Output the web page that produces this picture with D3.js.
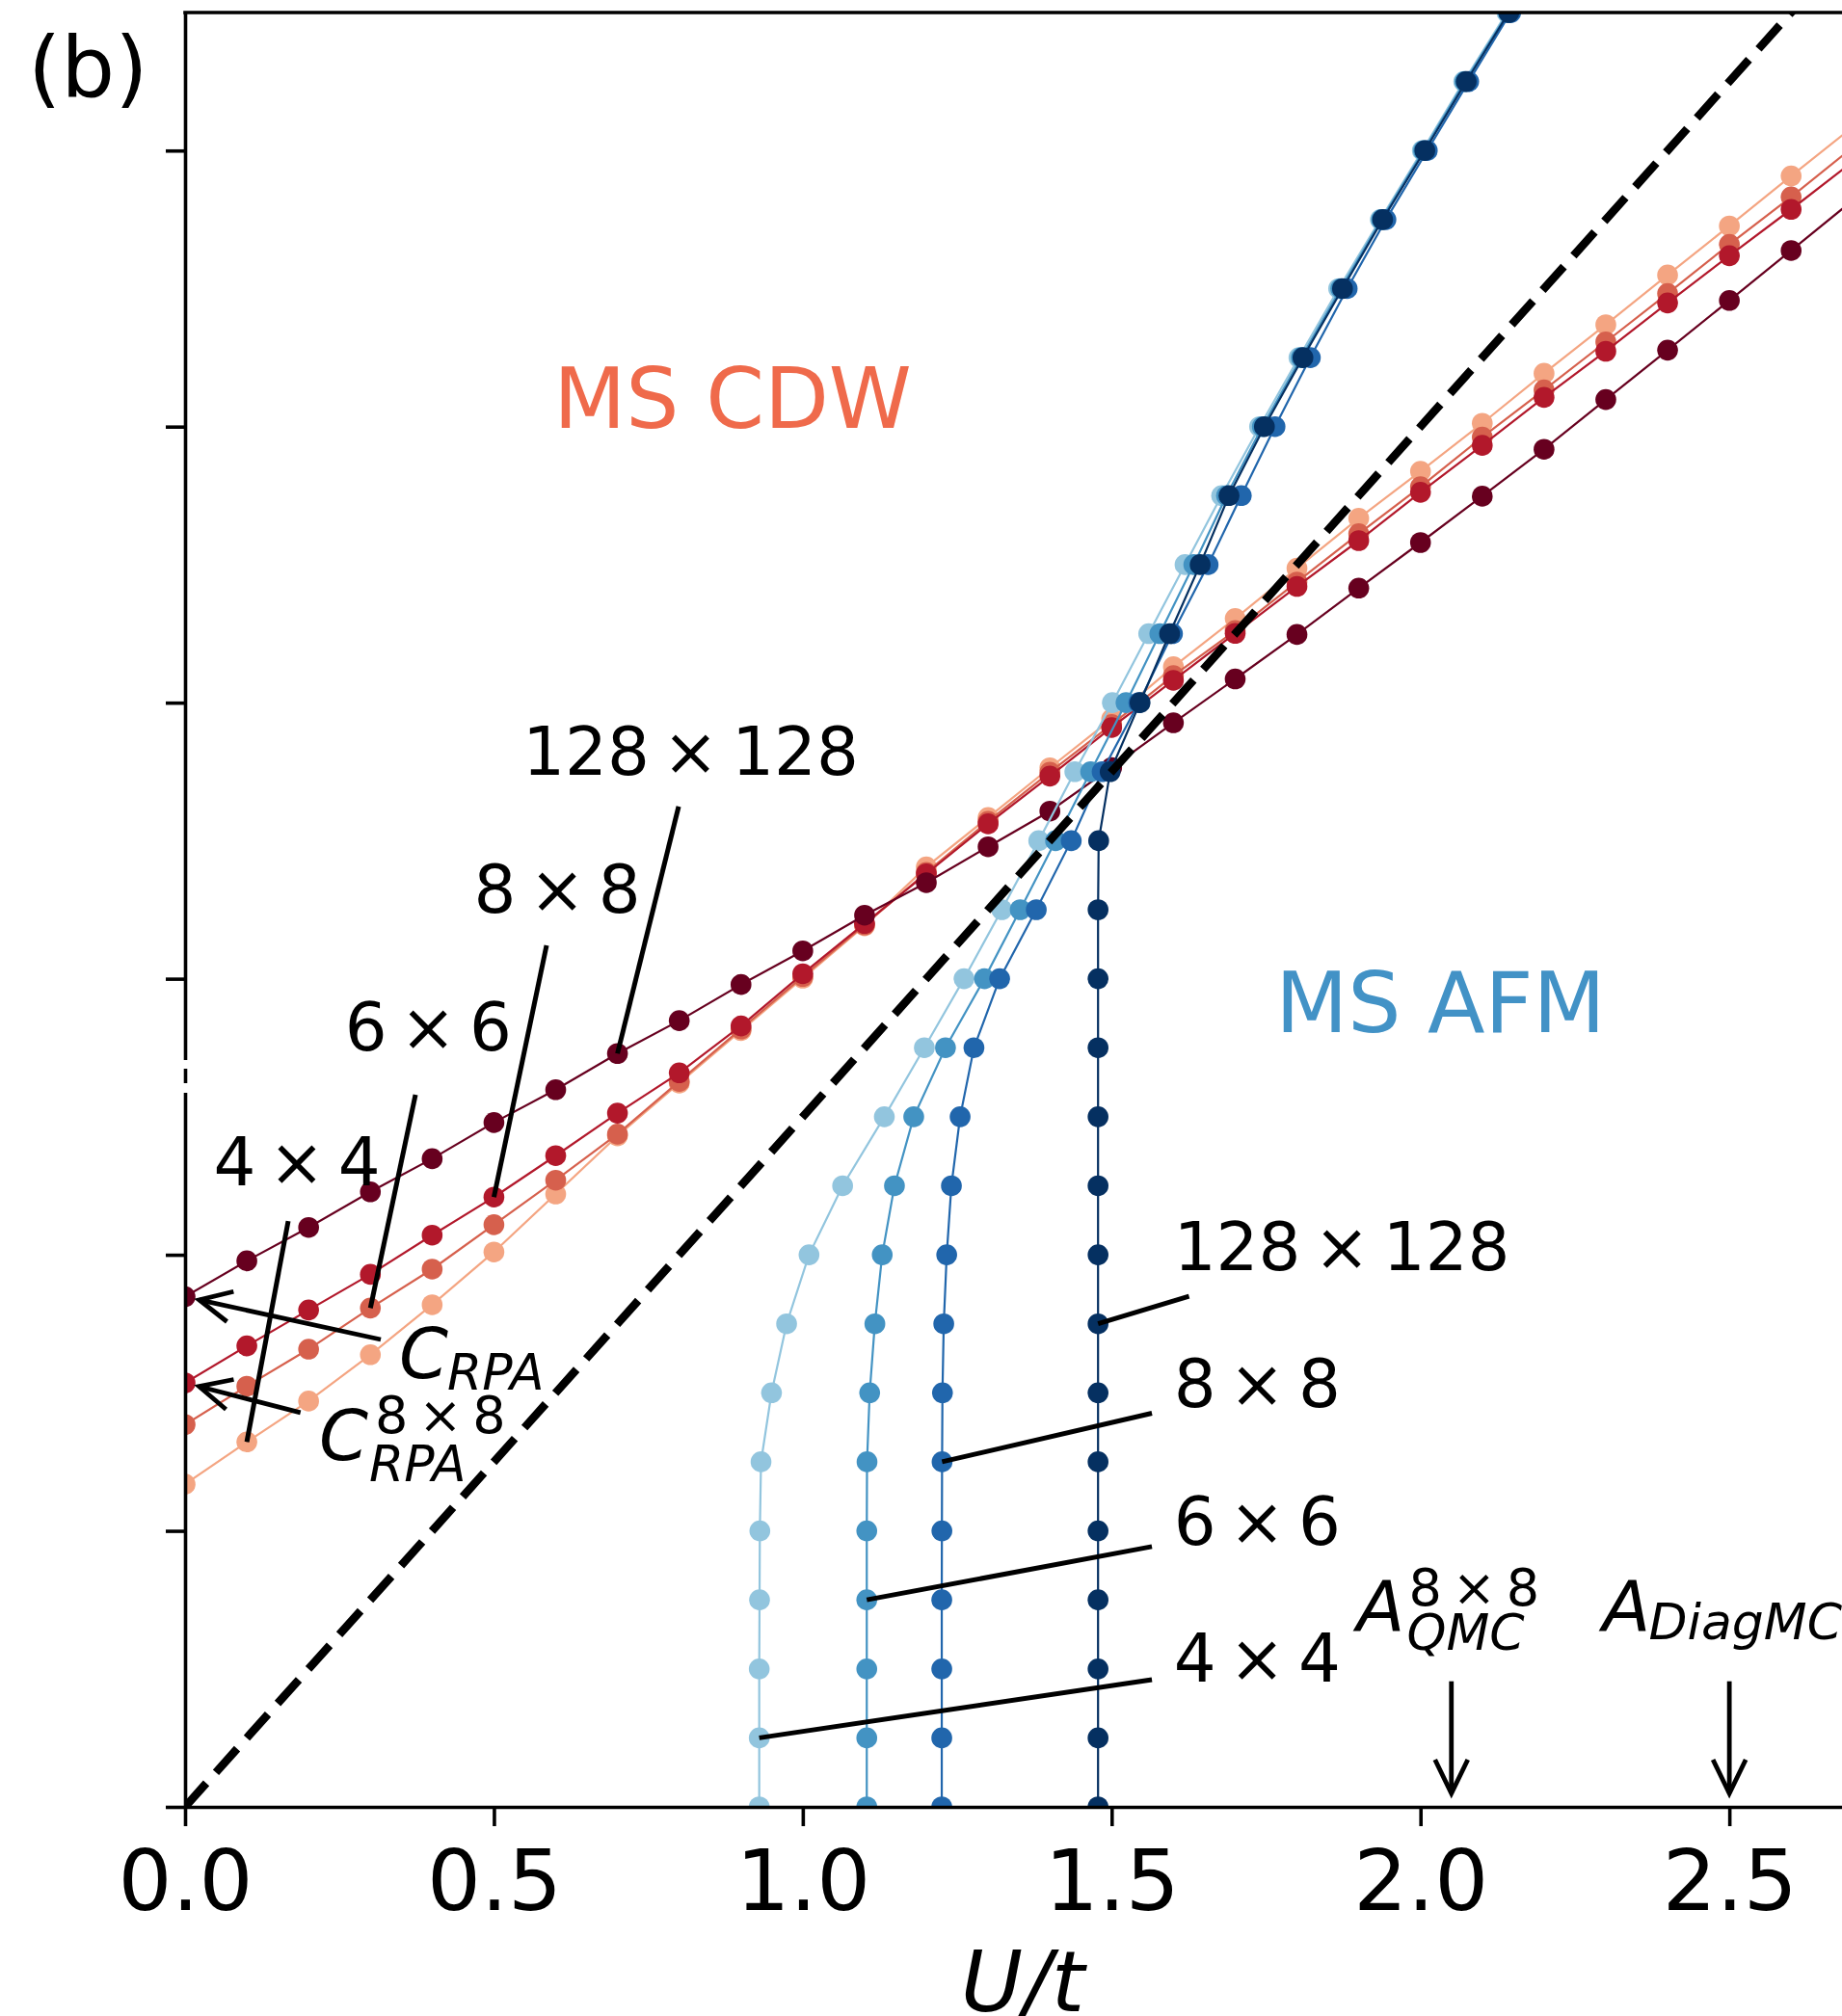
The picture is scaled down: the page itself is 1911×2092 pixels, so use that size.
<!DOCTYPE html>
<html>
<head>
<meta charset="utf-8">
<script src="https://cdn.jsdelivr.net/npm/d3@7"></script>
<style>
  html, body { margin: 0; padding: 0; background: #fff; overflow: hidden; }
  svg { display: block; }
  text { font-family: "DejaVu Sans", sans-serif; }
</style>
</head>
<body>
<svg id="chart" width="1911" height="2092"></svg>
<script>
// ---------- data ----------
// CDW boundary V_c(U): sampled on a U/t grid
const uGrid = [0, 0.1, 0.2, 0.3, 0.4, 0.5, 0.6, 0.7, 0.8, 0.9, 1.0, 1.1, 1.2, 1.3,
               1.4, 1.5, 1.6, 1.7, 1.8, 1.9, 2.0, 2.1, 2.2, 2.3, 2.4, 2.5, 2.6, 2.7];
const cdw4x4 = [0.1169, 0.1322, 0.1470, 0.1638, 0.1819, 0.2010, 0.2220, 0.2431, 0.2622, 0.2812,
                0.3002, 0.3192, 0.3405, 0.3584, 0.3764, 0.3941, 0.4130, 0.4305, 0.4487, 0.4668,
                0.4838, 0.5012, 0.5193, 0.5369, 0.5549, 0.5727, 0.5908, 0.6086];
const cdw6x6 = [0.1385, 0.1524, 0.1658, 0.1807, 0.1948, 0.2109, 0.2270, 0.2437, 0.2628, 0.2818,
                0.3008, 0.3195, 0.3385, 0.3570, 0.3748, 0.3921, 0.4098, 0.4261, 0.4437, 0.4612,
                0.4782, 0.4962, 0.5133, 0.5307, 0.5482, 0.5660, 0.5832, 0.6012];
const cdw8x8 = [0.1536, 0.1670, 0.1800, 0.1929, 0.2071, 0.2209, 0.2359, 0.2513, 0.2659, 0.2829,
                0.3018, 0.3200, 0.3380, 0.3561, 0.3734, 0.3910, 0.4081, 0.4251, 0.4421, 0.4587,
                0.4762, 0.4932, 0.5106, 0.5273, 0.5448, 0.5619, 0.5787, 0.5960];
const cdw128 = [0.1848, 0.1978, 0.2099, 0.2228, 0.2348, 0.2479, 0.2598, 0.2729, 0.2848, 0.2979,
                0.3101, 0.3230, 0.3348, 0.3478, 0.3607, 0.3765, 0.3927, 0.4086, 0.4247, 0.4415,
                0.4580, 0.4748, 0.4918, 0.5098, 0.5277, 0.5457, 0.5638, 0.5820];

// AFM boundary U_c(V): sampled on a V/t grid
const vGrid = [0, 0.025, 0.05, 0.075, 0.1, 0.125, 0.15, 0.175, 0.2, 0.225, 0.25, 0.275, 0.3,
               0.325, 0.35, 0.375, 0.4, 0.425, 0.45, 0.475, 0.5, 0.525, 0.55, 0.575, 0.6, 0.625, 0.65];
const afm4x4 = [0.9295, 0.9295, 0.9295, 0.9300, 0.9305, 0.9324, 0.9494, 0.9738, 1.0101, 1.0645,
                1.1320, 1.1968, 1.2610, 1.3222, 1.3820, 1.4404, 1.5012, 1.5600, 1.6188, 1.6780,
                1.7395, 1.8032, 1.8675, 1.9350, 2.0030, 2.0700, 2.1400];
const afm6x6 = [1.1036, 1.1036, 1.1036, 1.1036, 1.1036, 1.1040, 1.1083, 1.1167, 1.1286, 1.1484,
                1.1796, 1.2310, 1.2940, 1.3520, 1.4092, 1.4660, 1.5233, 1.5780, 1.6330, 1.6860,
                1.7440, 1.8070, 1.8710, 1.9370, 2.0050, 2.0720, 2.1420];
const afm8x8 = [1.2250, 1.2250, 1.2250, 1.2250, 1.2252, 1.2255, 1.2261, 1.2282, 1.2330, 1.2406,
                1.2547, 1.2771, 1.3187, 1.3780, 1.4346, 1.4846, 1.5440, 1.5985, 1.6562, 1.7099,
                1.7645, 1.8217, 1.8813, 1.9440, 2.0110, 2.0780, 2.1460];
const afm128 = [1.4780, 1.4780, 1.4780, 1.4780, 1.4780, 1.4780, 1.4780, 1.4780, 1.4780, 1.4780,
                1.4780, 1.4780, 1.4780, 1.4780, 1.4790, 1.4976, 1.5460, 1.5938, 1.6433, 1.6900,
                1.7473, 1.8097, 1.8737, 1.9387, 2.0070, 2.0740, 2.1430];

const sizeNames = ["4\u2009×\u20094", "6\u2009×\u20096", "8\u2009×\u20098", "128\u2009×\u2009128"];
const xTicks = [0, 0.5, 1.0, 1.5, 2.0, 2.5];
const yTicks = [0, 0.1, 0.2, 0.3, 0.4, 0.5, 0.6];
const strongCouplingSlope = 0.25;   // V = U/4
const qmcU = 2.05, diagmcU = 2.5;

// ---------- styling ----------
const cdwColors = ["#f4a582", "#d6604d", "#b2182b", "#67001f"];
const afmColors = ["#92c5de", "#4393c3", "#2166ac", "#053061"];
const cdwSeries = [cdw4x4, cdw6x6, cdw8x8, cdw128];
const afmSeries = [afm4x4, afm6x6, afm8x8, afm128];

const svg = d3.select("#chart");
const plot = { left: 192, right: 1930, top: 13, bottom: 1875 };

const x = d3.scaleLinear().domain([0, 2.712]).range([plot.left, plot.right]);
const y = d3.scaleLinear().domain([0, 0.65]).range([plot.bottom, plot.top]);

svg.append("defs").append("clipPath").attr("id", "plotClip")
  .append("rect")
  .attr("x", plot.left).attr("y", plot.top)
  .attr("width", plot.right - plot.left).attr("height", plot.bottom - plot.top);

const layer = svg.append("g").attr("clip-path", "url(#plotClip)");
const line = d3.line().x(d => x(d[0])).y(d => y(d[1]));
const R = 10.8;

function drawSeries(points, color) {
  layer.append("path").datum(points)
    .attr("d", line).attr("fill", "none")
    .attr("stroke", color).attr("stroke-width", 2.2);
  layer.append("g").selectAll("circle").data(points).join("circle")
    .attr("cx", d => x(d[0])).attr("cy", d => y(d[1]))
    .attr("r", R).attr("fill", color);
}

cdwSeries.forEach((vals, k) => drawSeries(uGrid.map((u, i) => [u, vals[i]]), cdwColors[k]));
afmSeries.forEach((vals, k) => drawSeries(vGrid.map((v, i) => [vals[i], v]), afmColors[k]));

// strong-coupling line V = U/4
layer.append("path")
  .datum([[0, 0], [2.712, 2.712 * strongCouplingSlope]])
  .attr("d", line).attr("fill", "none")
  .attr("stroke", "#000").attr("stroke-width", 8.5)
  .attr("stroke-dasharray", "33 15");

// ---------- annotations ----------
const ann = svg.append("g");

function segment(p0, p1, w) {
  ann.append("line")
    .attr("x1", p0[0]).attr("y1", p0[1]).attr("x2", p1[0]).attr("y2", p1[1])
    .attr("stroke", "#000").attr("stroke-width", w);
}

// open-headed arrow from tail (data) to target (data), tip pulled back by `shrink` px
function arrow(tail, target, shrink, headLen, headHalf) {
  const t = [x(tail[0]), y(tail[1])], g = [x(target[0]), y(target[1])];
  const dx = t[0] - g[0], dy = t[1] - g[1], L = Math.hypot(dx, dy);
  const ux = dx / L, uy = dy / L;
  const tip = [g[0] + ux * shrink, g[1] + uy * shrink];
  ann.append("line")
    .attr("x1", t[0]).attr("y1", t[1]).attr("x2", tip[0]).attr("y2", tip[1])
    .attr("stroke", "#000").attr("stroke-width", 4.8);
  const b = [tip[0] + ux * headLen, tip[1] + uy * headLen];
  ann.append("path")
    .attr("d", `M${b[0] - uy * headHalf},${b[1] + ux * headHalf}L${tip[0]},${tip[1]}L${b[0] + uy * headHalf},${b[1] - ux * headHalf}`)
    .attr("fill", "none").attr("stroke", "#000").attr("stroke-width", 4.8)
    .attr("stroke-linejoin", "miter");
}

// size labels for CDW curves (centered text, pointer from text to a data point)
const cdwLabelPos = [[0.181, 0.2250], [0.3936, 0.2740], [0.6024, 0.3238], [0.8185, 0.3737]];
const cdwPointerFrom = [[0.167, 0.2122], [0.373, 0.258], [0.5852, 0.3121], [0.799, 0.3624]];
const cdwPointerIdx = [1, 3, 5, 7];
cdwLabelPos.forEach((p, k) => {
  ann.append("text").attr("x", x(p[0])).attr("y", y(p[1]))
    .attr("text-anchor", "middle").attr("font-size", 69).attr("fill", "#000")
    .text(sizeNames[k]);
  const i = cdwPointerIdx[k];
  segment([x(cdwPointerFrom[k][0]), y(cdwPointerFrom[k][1])],
          [x(uGrid[i]), y(cdwSeries[k][i])], 5);
});

// size labels for AFM curves (left aligned)
const afmLabelU = 1.6005;
const afmLabelV = [0.0455, 0.0951, 0.1449, 0.1943];
const afmPointerFrom = [[1.5652, 0.0461], [1.5652, 0.0943], [1.5652, 0.1426], [1.6253, 0.1850]];
const afmPointerIdx = [1, 3, 5, 7];
afmLabelV.forEach((v, k) => {
  ann.append("text").attr("x", x(afmLabelU)).attr("y", y(v))
    .attr("font-size", 69).attr("fill", "#000").text(sizeNames[k]);
  const i = afmPointerIdx[k];
  segment([x(afmPointerFrom[k][0]), y(afmPointerFrom[k][1])],
          [x(afmSeries[k][i]), y(vGrid[i])], 5);
});

// math-style labels: main italic glyph with optional sub/superscripts
function mathLabel(pos, main, sub, sup, o) {
  const x0 = x(pos[0]), y0 = y(pos[1]);
  const g = ann.append("g").attr("font-style", "italic").attr("fill", "#000");
  g.append("text").attr("x", x0).attr("y", y0).attr("font-size", 73).text(main);
  if (sub) g.append("text").attr("x", x0 + o.subDx).attr("y", y0 + o.subDy)
             .attr("font-size", 52).text(sub);
  if (sup) g.append("text").attr("x", x0 + o.supDx).attr("y", y0 + o.supDy)
             .attr("font-size", 54).attr("font-style", "normal").text(sup);
}

mathLabel([0.3465, 0.1553], "C", "RPA", null, { subDx: 50, subDy: 12 });
mathLabel([0.2170, 0.1257], "C", "RPA", "8\u2009×\u20098", { subDx: 52, subDy: 22, supDx: 58, supDy: -28 });
mathLabel([1.8967, 0.0637], "A", "QMC", "8\u2009×\u20098", { subDx: 52, subDy: 19, supDx: 54, supDy: -27 });
mathLabel([2.2946, 0.0637], "A", "DiagMC", null, { subDx: 48, subDy: 8 });

arrow([0.3168, 0.1693], [0, cdw128[0]], 15, 33, 16);
arrow([0.1868, 0.1428], [0, cdw8x8[0]], 15, 33, 16);
arrow([qmcU, 0.0455], [qmcU, 0], 14, 35, 17);
arrow([diagmcU, 0.0455], [diagmcU, 0], 14, 35, 17);

// phase labels
ann.append("text").attr("x", x(0.8864)).attr("y", y(0.4996))
  .attr("text-anchor", "middle").attr("font-size", 87).attr("fill", "#ef6a4b").text("MS CDW");
ann.append("text").attr("x", x(2.0323)).attr("y", y(0.2805))
  .attr("text-anchor", "middle").attr("font-size", 87).attr("fill", "#4292c6").text("MS AFM");

// ---------- axes ----------
const xAxis = svg.append("g").attr("transform", `translate(0,${plot.bottom})`)
  .call(d3.axisBottom(x).tickValues(xTicks).tickSize(20).tickSizeOuter(0)
        .tickFormat(d3.format(".1f")));
xAxis.select(".domain").attr("stroke", "#000").attr("stroke-width", 3.6);
xAxis.selectAll(".tick line").attr("stroke", "#000").attr("stroke-width", 3.6);
xAxis.selectAll(".tick text")
  .attr("y", 106.5).attr("dy", null)
  .attr("font-size", 88).attr("font-family", "DejaVu Sans").attr("fill", "#000");

const yAxis = svg.append("g").attr("transform", `translate(${plot.left},0)`)
  .call(d3.axisLeft(y).tickValues(yTicks).tickSize(20).tickSizeOuter(0).tickFormat(""));
yAxis.select(".domain").attr("stroke", "#000").attr("stroke-width", 3.6);
yAxis.selectAll(".tick line").attr("stroke", "#000").attr("stroke-width", 3.6);

// top and right spines
svg.append("line").attr("x1", plot.left - 1.8).attr("x2", plot.right)
  .attr("y1", plot.top).attr("y2", plot.top)
  .attr("stroke", "#000").attr("stroke-width", 3.6);
svg.append("line").attr("x1", plot.right).attr("x2", plot.right)
  .attr("y1", plot.top).attr("y2", plot.bottom)
  .attr("stroke", "#000").attr("stroke-width", 3.6);

// break marks on the left spine
[[1100, 9], [1124, 10]].forEach(([yy, h]) => {
  svg.append("rect").attr("x", plot.left - 6).attr("y", yy)
    .attr("width", 12).attr("height", h).attr("fill", "#fff");
});

// axis title and panel tag
svg.append("text").attr("x", (plot.left + plot.right) / 2).attr("y", 2087)
  .attr("text-anchor", "middle").attr("font-size", 88).attr("font-style", "italic")
  .text("U/t");
svg.append("text").attr("x", 29).attr("y", 100).attr("font-size", 88).text("(b)");
</script>
</body>
</html>
